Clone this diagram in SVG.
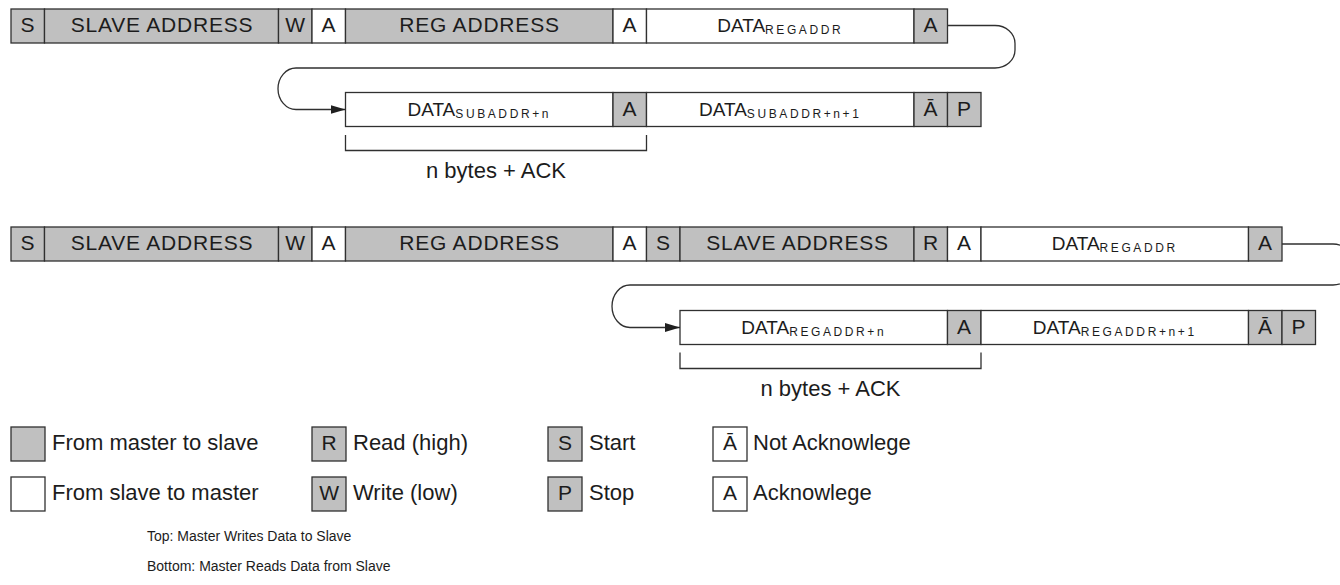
<svg xmlns="http://www.w3.org/2000/svg" width="1340" height="585" viewBox="0 0 1340 585">
<style>
  .m { fill: #c0c0c0; stroke: #303030; stroke-width: 1.3; }
  .s { fill: #ffffff; stroke: #303030; stroke-width: 1.3; }
  .t { font-family: "Liberation Sans", Arial, sans-serif; font-size: 21px; fill: #1c1c1c; text-anchor: middle; letter-spacing: 0.8px; }
  .d { font-family: "Liberation Sans", Arial, sans-serif; font-size: 19px; fill: #1c1c1c; text-anchor: middle; }
  .sub { font-size: 12px; letter-spacing: 2.6px; }
  .l { font-family: "Liberation Sans", Arial, sans-serif; font-size: 22px; fill: #1c1c1c; }
  .cap { font-family: "Liberation Sans", Arial, sans-serif; font-size: 14px; fill: #1c1c1c; }
  .c { fill: none; stroke: #303030; stroke-width: 1.3; }
</style>
<defs>
  <marker id="arr" markerUnits="userSpaceOnUse" markerWidth="16" markerHeight="10" refX="15" refY="4.5" orient="auto">
    <path d="M0,0 L15,4.5 L0,9 Z" fill="#202020"/>
  </marker>
</defs>

<!-- Top sequence: Master writes -->
<g id="w1-s"><rect class="m" x="11" y="9" width="33.5" height="34"/><text class="t" x="28" y="32">S</text></g>
<g id="w1-slave"><rect class="m" x="44.5" y="9" width="234" height="34"/><text class="t" x="162" y="32">SLAVE ADDRESS</text></g>
<g id="w1-w"><rect class="m" x="278.5" y="9" width="33.5" height="34"/><text class="t" x="295.5" y="32">W</text></g>
<g id="w1-a1"><rect class="s" x="312" y="9" width="33.5" height="34"/><text class="t" x="329" y="32">A</text></g>
<g id="w1-reg"><rect class="m" x="345.5" y="9" width="267.5" height="34"/><text class="t" x="479.5" y="32">REG ADDRESS</text></g>
<g id="w1-a2"><rect class="s" x="613" y="9" width="33.5" height="34"/><text class="t" x="630" y="32">A</text></g>
<g id="w1-data"><rect class="s" x="646.5" y="9" width="267.5" height="34"/><text class="d" x="780.25" y="32">DATA<tspan class="sub" dy="2">REGADDR</tspan></text></g>
<g id="w1-a3"><rect class="m" x="914" y="9" width="33.5" height="34"/><text class="t" x="931" y="32">A</text></g>

<g id="w2-data-n"><rect class="s" x="345.5" y="92.5" width="267.5" height="34"/><text class="d" x="479.25" y="115.5">DATA<tspan class="sub" dy="2">SUBADDR+n</tspan></text></g>
<g id="w2-a"><rect class="m" x="613" y="92.5" width="33.5" height="34"/><text class="t" x="630" y="115.5">A</text></g>
<g id="w2-data-n1"><rect class="s" x="646.5" y="92.5" width="267.5" height="34"/><text class="d" x="780.25" y="115.5">DATA<tspan class="sub" dy="2">SUBADDR+n+1</tspan></text></g>
<g id="w2-nack"><rect class="m" x="914" y="92.5" width="33.5" height="34"/><text class="t" x="931" y="115.5">Ā</text></g>
<g id="w2-p"><rect class="m" x="947.5" y="92.5" width="33.5" height="34"/><text class="t" x="964.5" y="115.5">P</text></g>

<g id="w-bytes"><text class="l" x="496" y="177.5" text-anchor="middle">n bytes + ACK</text></g>

<!-- Bottom sequence: Master reads -->
<g id="r1-s"><rect class="m" x="11" y="227" width="33.5" height="34"/><text class="t" x="28" y="250">S</text></g>
<g id="r1-slave"><rect class="m" x="44.5" y="227" width="234" height="34"/><text class="t" x="162" y="250">SLAVE ADDRESS</text></g>
<g id="r1-w"><rect class="m" x="278.5" y="227" width="33.5" height="34"/><text class="t" x="295.5" y="250">W</text></g>
<g id="r1-a1"><rect class="s" x="312" y="227" width="33.5" height="34"/><text class="t" x="329" y="250">A</text></g>
<g id="r1-reg"><rect class="m" x="345.5" y="227" width="267.5" height="34"/><text class="t" x="479.5" y="250">REG ADDRESS</text></g>
<g id="r1-a2"><rect class="s" x="613" y="227" width="33.5" height="34"/><text class="t" x="630" y="250">A</text></g>
<g id="r1-s2"><rect class="m" x="646.5" y="227" width="33.5" height="34"/><text class="t" x="663.5" y="250">S</text></g>
<g id="r1-slave2"><rect class="m" x="680" y="227" width="234" height="34"/><text class="t" x="797.5" y="250">SLAVE ADDRESS</text></g>
<g id="r1-r"><rect class="m" x="914" y="227" width="33.5" height="34"/><text class="t" x="931" y="250">R</text></g>
<g id="r1-a3"><rect class="s" x="947.5" y="227" width="33.5" height="34"/><text class="t" x="964.5" y="250">A</text></g>
<g id="r1-data"><rect class="s" x="981" y="227" width="267.5" height="34"/><text class="d" x="1114.75" y="250">DATA<tspan class="sub" dy="2">REGADDR</tspan></text></g>
<g id="r1-a4"><rect class="m" x="1248.5" y="227" width="33.5" height="34"/><text class="t" x="1265.5" y="250">A</text></g>

<g id="r2-data-n"><rect class="s" x="680" y="310.5" width="267.5" height="34"/><text class="d" x="813.75" y="333.5">DATA<tspan class="sub" dy="2">REGADDR+n</tspan></text></g>
<g id="r2-a"><rect class="m" x="947.5" y="310.5" width="33.5" height="34"/><text class="t" x="964.5" y="333.5">A</text></g>
<g id="r2-data-n1"><rect class="s" x="981" y="310.5" width="267.5" height="34"/><text class="d" x="1114.75" y="333.5">DATA<tspan class="sub" dy="2">REGADDR+n+1</tspan></text></g>
<g id="r2-nack"><rect class="m" x="1248.5" y="310.5" width="33.5" height="34"/><text class="t" x="1265.5" y="333.5">Ā</text></g>
<g id="r2-p"><rect class="m" x="1282" y="310.5" width="33.5" height="34"/><text class="t" x="1299" y="333.5">P</text></g>

<g id="r-bytes"><text class="l" x="830.5" y="395.5" text-anchor="middle">n bytes + ACK</text></g>

<!-- Connectors -->
<g id="connectors">
  <path class="c" d="M947.5,25.5 H995 A20,18 0 0 1 1015,43.5 V50 A20,18 0 0 1 995,68 H296 A18,20.75 0 0 0 278,88.75 A18,20.75 0 0 0 296,109.5 H345.5" marker-end="url(#arr)"/>
  <path class="c" d="M1282,244 H1333 A20,18 0 0 1 1353,262 V267 A20,18 0 0 1 1333,285 H630 A18,21.25 0 0 0 612,306.25 A18,21.25 0 0 0 630,327.5 H680" marker-end="url(#arr)"/>
  <path class="c" d="M345.5,135 V150.5 H646.5 V135"/>
  <path class="c" d="M680,352.5 V368.5 H981 V352.5"/>
</g>

<!-- Legend -->
<g id="leg-master"><rect class="m" x="11" y="427" width="34" height="34"/><text class="l" x="52" y="450">From master to slave</text></g>
<g id="leg-slave"><rect class="s" x="11" y="477" width="34" height="34"/><text class="l" x="52" y="500">From slave to master</text></g>
<g id="leg-read"><rect class="m" x="312" y="427" width="34" height="34"/><text class="t" x="329.5" y="450">R</text><text class="l" x="353" y="450">Read (high)</text></g>
<g id="leg-write"><rect class="m" x="312" y="477" width="34" height="34"/><text class="t" x="329.5" y="500">W</text><text class="l" x="353" y="500">Write (low)</text></g>
<g id="leg-start"><rect class="m" x="548" y="427" width="34" height="34"/><text class="t" x="565.5" y="450">S</text><text class="l" x="589" y="450">Start</text></g>
<g id="leg-stop"><rect class="m" x="548" y="477" width="34" height="34"/><text class="t" x="565.5" y="500">P</text><text class="l" x="589" y="500">Stop</text></g>
<g id="leg-nack"><rect class="s" x="713" y="427" width="34" height="34"/><text class="t" x="730.5" y="450">Ā</text><text class="l" x="753" y="450">Not Acknowlege</text></g>
<g id="leg-ack"><rect class="s" x="713" y="477" width="34" height="34"/><text class="t" x="730.5" y="500">A</text><text class="l" x="753" y="500">Acknowlege</text></g>

<g id="caption">
  <text class="cap" x="147" y="541">Top: Master Writes Data to Slave</text>
  <text class="cap" x="147" y="571">Bottom: Master Reads Data from Slave</text>
</g>
</svg>
